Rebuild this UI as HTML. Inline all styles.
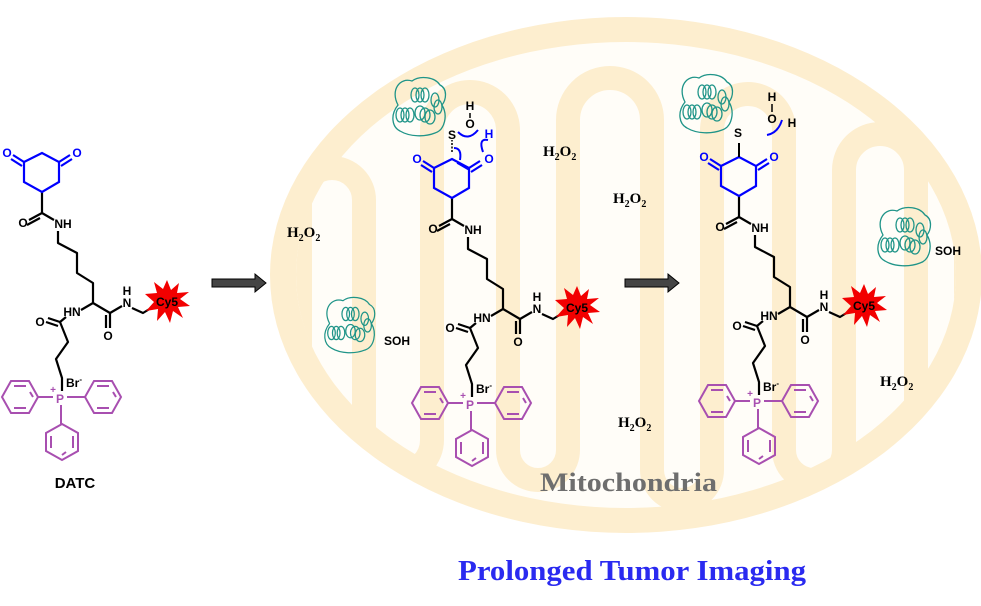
<!DOCTYPE html>
<html><head><meta charset="utf-8"><style>
html,body{margin:0;padding:0;background:#fff;}
svg{display:block;}
.t{font-family:"Liberation Sans",sans-serif;font-size:12px;font-weight:bold;fill:#000;}
.h{font-family:"Liberation Serif",serif;font-weight:bold;font-size:15px;fill:#000;}
</style></head><body>
<svg width="981" height="606" viewBox="0 0 981 606" xmlns="http://www.w3.org/2000/svg">
<defs>
<clipPath id="cl"><ellipse cx="626" cy="275" rx="330" ry="235"/></clipPath>
<g id="prot" fill="none" stroke="#1f9488" stroke-width="1.3">
  <path d="M8,30 C0,15 10,2 22,6 C30,0 45,2 50,10 C58,14 56,25 52,30 C58,40 55,55 45,58 C35,62 20,62 10,56 C2,52 0,40 8,30Z"/>
  <ellipse cx="15" cy="40" rx="4" ry="7"/><ellipse cx="20" cy="40" rx="4" ry="7"/><ellipse cx="10" cy="40" rx="4" ry="7"/>
  <ellipse cx="25" cy="20" rx="4" ry="7"/><ellipse cx="30" cy="20" rx="4" ry="7"/><ellipse cx="35" cy="20" rx="4" ry="7"/>
  <ellipse cx="30" cy="38" rx="5" ry="7"/><ellipse cx="35" cy="40" rx="5" ry="7"/><ellipse cx="40" cy="42" rx="5" ry="7"/>
  <ellipse cx="45" cy="25" rx="4" ry="7"/><ellipse cx="48" cy="32" rx="4" ry="7"/>
</g>
<g id="star"><polygon fill="#f20000" points="22,0 26,10 34,3 32,13 44,12 35,19 45,26 33,27 38,38 28,31 25,43 20,32 12,41 13,29 1,31 9,22 0,14 12,13 9,2 18,9"/></g>
<g id="mol">
  <g fill="none" stroke="#000" stroke-width="2.2" stroke-linejoin="round">
    <path d="M42,192 V213 M42,213 L54,220"/>
    <path d="M42,213 L29,220 M40,218 L27,225"/>
    <path d="M58,231 V243 L77,253 V273 L93,283 V303 L81,310 M93,303 L110,313 L122,306 M132,308 L143,313 L156,305"/>
    <path d="M110,313 V328 M106,315 V328"/>
    <path d="M66,317 L60,322 L68,342 L56,359 L62,378 V391"/>
    <path d="M60,322 L48,318 M58,326 L46,322"/>
  </g>
  <text class="t" x="23" y="227" text-anchor="middle">O</text>
  <text class="t" x="63" y="228" text-anchor="middle">NH</text>
  <text class="t" x="72" y="316" text-anchor="middle">HN</text>
  <text class="t" x="108" y="340" text-anchor="middle">O</text>
  <text class="t" x="127" y="307" text-anchor="middle">N</text>
  <text class="t" x="127" y="295" text-anchor="middle">H</text>
  <text class="t" x="40" y="326" text-anchor="middle">O</text>
  <use href="#star" x="145" y="280"/>
  <text class="t" x="167" y="306" text-anchor="middle">Cy5</text>
  <text class="t" x="66" y="387">Br<tspan dy="-5" font-size="8">-</tspan></text>
  <g fill="none" stroke="#a84fb0" stroke-width="2">
    <path d="M38,397 H53 M67,397 H85 M61,405 V424"/>
    <polygon points="38,397 29,381 11,381 2,397 11,413 29,413"/>
    <path d="M14,386 H26 M14,408 H26 M33,397 L30,392"/>
    <polygon points="85,397 94,381 112,381 121,397 112,413 94,413"/>
    <path d="M97,386 H109 M97,408 H109 M116,397 L113,392"/>
    <polygon points="62,424 78,433 78,451 62,460 46,451 46,433"/>
    <path d="M51,436 V448 M73,436 V448 M62,455 L66,452"/>
  </g>
  <text x="60" y="403" text-anchor="middle" font-family="Liberation Sans,sans-serif" font-size="12" font-weight="bold" fill="#a84fb0">P</text>
  <text x="53" y="393" text-anchor="middle" font-family="Liberation Sans,sans-serif" font-size="10" font-weight="bold" fill="#a84fb0">+</text>
</g>
<g id="ring" fill="none" stroke="#0000ff" stroke-width="2.2">
  <polygon points="24,162 42,153 59,162 59,182 42,192 24,182"/>
  <path d="M24,162 L13,155 M22,166 L11,159 M59,162 L70,155 M61,166 L72,159"/>
</g>
</defs>

<!-- mitochondria -->
<ellipse cx="626" cy="275" rx="356" ry="258" fill="#fdeecf"/>
<ellipse cx="626" cy="275" rx="330" ry="233" fill="#fffdf8"/>
<g clip-path="url(#cl)">
<path d="M300,560 V200 A32,32 0 0 1 364,200 V440 A34,34 0 0 0 432,440 V130 A38,38 0 0 1 508,130 V450 A30,30 0 0 0 568,450 V120 A42,42 0 0 1 652,120 V470 A30,30 0 0 0 712,470 V130 A36,36 0 0 1 784,130 V450 A30,30 0 0 0 844,450 V170 A36,36 0 0 1 916,170 V430 A25,25 0 0 0 966,430 V0" fill="none" stroke="#fdeecf" stroke-width="24"/>
</g>

<!-- left molecule -->
<use href="#mol"/>
<use href="#ring"/>
<text class="t" x="7" y="157" text-anchor="middle" style="fill:#00f">O</text>
<text class="t" x="77" y="157" text-anchor="middle" style="fill:#00f">O</text>
<text x="75" y="488" text-anchor="middle" font-family="Liberation Sans,sans-serif" font-weight="bold" font-size="15">DATC</text>

<!-- arrows -->
<path d="M212,279 H255 V274 L266,283 L255,292 V287 H212Z" fill="#444" stroke="#000" stroke-width="1"/>
<path d="M625,279 H668 V274 L679,283 L668,292 V287 H625Z" fill="#444" stroke="#000" stroke-width="1"/>

<!-- middle molecule -->
<g transform="translate(410,6)"><use href="#mol"/><use href="#ring"/></g>
<text class="t" x="417" y="163" text-anchor="middle" style="fill:#00f">O</text>
<text class="t" x="489" y="163" text-anchor="middle" style="fill:#00f">O</text>
<path d="M457,163 L469,170" stroke="#00f" stroke-width="1.5"/>
<path d="M452,152 L452,140" stroke="#000" stroke-width="1.5" stroke-dasharray="2,1.5"/>
<use href="#prot" transform="translate(390,75)"/>
<text class="t" x="452" y="139" text-anchor="middle">S</text>
<text class="t" x="470" y="110" text-anchor="middle">H</text>
<text class="t" x="470" y="128" text-anchor="middle">O</text>
<text class="t" x="489" y="138" text-anchor="middle" style="fill:#00f">H</text>
<path d="M470,113 V118" stroke="#000" stroke-width="1.5"/>
<path d="M458,132 Q468,142 478,130 M488,140 Q478,138 483,152 M454,148 Q462,148 460,160" fill="none" stroke="#00f" stroke-width="2"/>
<use href="#prot" transform="translate(322,295) scale(0.95)"/>
<text class="t" x="384" y="345">SOH</text>

<!-- right molecule -->
<g transform="translate(697,4)"><use href="#mol"/><use href="#ring"/></g>
<text class="t" x="704" y="161" text-anchor="middle" style="fill:#00f">O</text>
<text class="t" x="774" y="161" text-anchor="middle" style="fill:#00f">O</text>
<path d="M739,157 V143" stroke="#000" stroke-width="2"/>
<use href="#prot" transform="translate(677,72)"/>
<text class="t" x="738" y="137" text-anchor="middle">S</text>
<text class="t" x="772" y="101" text-anchor="middle">H</text>
<text class="t" x="772" y="123" text-anchor="middle">O</text>
<text class="t" x="792" y="127" text-anchor="middle">H</text>
<path d="M772,104 V112" stroke="#000" stroke-width="1.5"/>
<path d="M767,135 Q778,133 782,120" fill="none" stroke="#00f" stroke-width="2"/>
<use href="#prot" transform="translate(875,205)"/>
<text class="t" x="935" y="255">SOH</text>

<!-- H2O2 labels -->
<text class="h" x="287" y="237">H<tspan dy="4" font-size="10">2</tspan><tspan dy="-4">O</tspan><tspan dy="4" font-size="10">2</tspan></text>
<text class="h" x="543" y="156">H<tspan dy="4" font-size="10">2</tspan><tspan dy="-4">O</tspan><tspan dy="4" font-size="10">2</tspan></text>
<text class="h" x="613" y="203">H<tspan dy="4" font-size="10">2</tspan><tspan dy="-4">O</tspan><tspan dy="4" font-size="10">2</tspan></text>
<text class="h" x="618" y="427">H<tspan dy="4" font-size="10">2</tspan><tspan dy="-4">O</tspan><tspan dy="4" font-size="10">2</tspan></text>
<text class="h" x="880" y="386">H<tspan dy="4" font-size="10">2</tspan><tspan dy="-4">O</tspan><tspan dy="4" font-size="10">2</tspan></text>

<text x="540" y="491" font-family="Liberation Serif,serif" font-weight="bold" font-size="26" fill="#6e6e6e" textLength="177" lengthAdjust="spacingAndGlyphs">Mitochondria</text>
<text x="458" y="580" font-family="Liberation Serif,serif" font-weight="bold" font-size="28" fill="#2a2af0" textLength="348" lengthAdjust="spacingAndGlyphs">Prolonged Tumor Imaging</text>
</svg>
</body></html>
